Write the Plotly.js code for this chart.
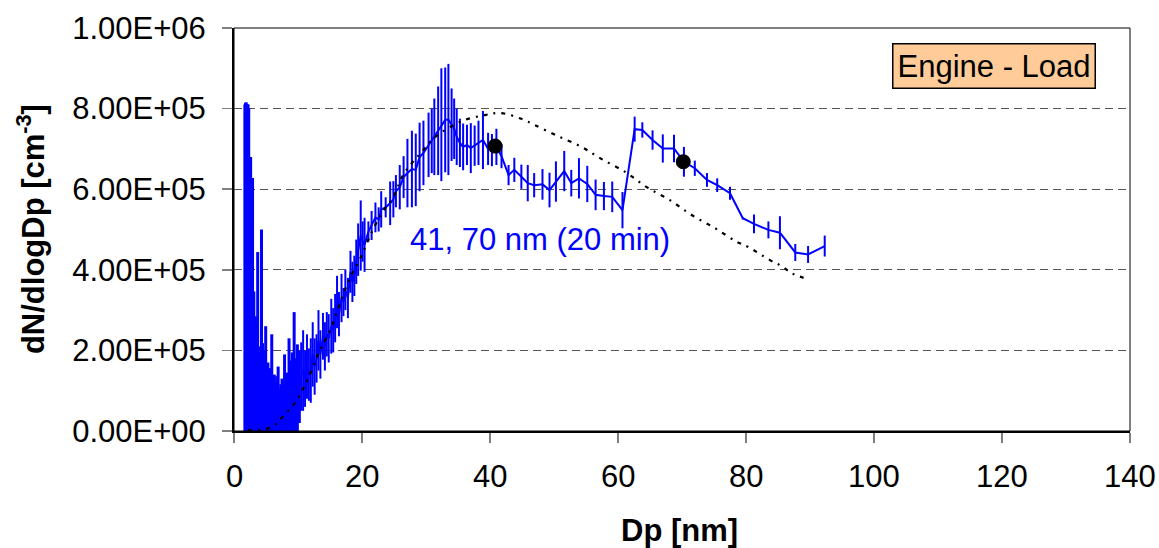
<!DOCTYPE html>
<html>
<head>
<meta charset="utf-8">
<script src="https://cdn.plot.ly/plotly-3.0.1.min.js"></script>
<style>html,body{margin:0;padding:0;background:#fff;}#chart{width:1159px;height:548px;}</style>
</head>
<body>
<div id="chart"></div>
<script>
// Measured size distribution (Dp in nm, dN/dlogDp in cm^-3) with error bars
// Small-size part (dense, noisy)
const dpSmall = [
  1.7,1.8,1.9,2.0,2.1,2.2,2.3,2.4,2.5,2.6,2.7,2.8,2.9,3.0,3.1,3.2,3.35,3.5,3.7,3.85,
  4.0,4.15,4.3,4.45,4.6,4.8,4.95,5.1,5.3,5.5,5.7,5.9,6.1,6.3,6.5,6.7,6.9,7.1,7.3,7.5,
  7.7,7.9,8.1,8.3,8.6,8.9,9.1,9.4,9.6,9.9,10.2
];
const valSmall = [
  3.95e5,3.97e5,3.98e5,3.95e5,3.95e5,3.95e5,3.9e5,3.3e5,3.3e5,3.3e5,3.04e5,3.04e5,3.04e5,1.63e5,1.63e5,1.32e5,1.32e5,1.3e5,2.12e5,0.87e5,
  0.85e5,0.95e5,2.4e5,0.99e5,0.9e5,0.8e5,1.2e5,0.7e5,0.75e5,0.6e5,0.68e5,1.1e5,0.5e5,0.6e5,0.5e5,0.58e5,0.7e5,0.42e5,0.48e5,0.55e5,
  0.5e5,0.85e5,0.55e5,0.7e5,1.1e5,0.85e5,0.95e5,1.45e5,0.9e5,1.0e5,1.1e5
];
const errSmall = [
  4.15e5,4.17e5,4.18e5,4.15e5,4.15e5,4.15e5,4.1e5,3.5e5,3.5e5,3.5e5,3.24e5,3.24e5,3.24e5,1.83e5,1.83e5,1.52e5,1.52e5,1.5e5,2.32e5,1.07e5,
  1.05e5,1.15e5,2.6e5,1.19e5,1.1e5,1.0e5,1.4e5,0.9e5,0.95e5,0.8e5,0.88e5,1.3e5,0.7e5,0.8e5,0.7e5,0.78e5,0.9e5,0.62e5,0.68e5,0.75e5,
  0.65e5,1.05e5,0.7e5,0.75e5,1.2e5,0.9e5,1.0e5,1.5e5,0.9e5,1.15e5,0.9e5
];
// Remaining part
const dpNm = [
  10.2,10.5,10.8,11.1,11.4,11.7,12.0,12.3,12.6,12.9,
  13.2,13.5,13.9,14.2,14.5,14.8,15.2,15.5,15.8,16.1,16.4,16.8,17.1,17.4,17.8,18.2,18.5,18.8,19.1,19.4,
  19.8,20.1,20.4,21.0,21.5,22.1,22.6,23.0,23.7,24.4,24.9,25.3,25.9,26.5,27.1,27.8,28.4,29.0,29.6,30.4,
  30.9,31.3,31.9,32.4,33.0,33.5,34.0,34.4,34.8,35.3,35.8,36.4,37.0,37.6,38.2,38.9,39.7,40.3,41.0,41.8,
  42.9,43.8,44.9,45.9,46.9,48.2,49.3,50.3,51.6,52.7,53.9,55.2,56.5,57.8,59.1,60.7,
  62.6,63.8,65.4,67.0,68.75,70.3,72.0,73.9,75.5,77.5,79.5,81.25,83.5,85.3,87.7,89.7,92.3
];
const dNdlogDp = [
  1.1e5,1.35e5,1.5e5,1.3e5,1.6e5,1.4e5,1.5e5,1.9e5,1.6e5,1.8e5,
  2.25e5,1.9e5,2.35e5,2.1e5,2.4e5,2.3e5,2.6e5,2.5e5,2.8e5,3.2e5,2.9e5,3.3e5,3.2e5,3.5e5,3.3e5,3.95e5,3.7e5,3.85e5,4.2e5,4.5e5,
  4.85e5,4.7e5,4.62e5,4.95e5,5.1e5,5.3e5,5.25e5,5.5e5,5.55e5,5.65e5,5.75e5,5.95e5,6.05e5,6.3e5,6.4e5,6.5e5,6.48e5,6.8e5,6.9e5,7.1e5,
  7.2e5,7.3e5,7.45e5,7.6e5,7.72e5,7.73e5,7.6e5,7.5e5,7.3e5,7.15e5,7.05e5,7.1e5,7.02e5,7.08e5,7.15e5,7.22e5,7.0e5,6.97e5,7.05e5,6.82e5,
  6.35e5,6.48e5,6.31e5,6.15e5,6.1e5,6.12e5,5.98e5,6.19e5,6.45e5,6.15e5,6.27e5,6.13e5,5.86e5,5.83e5,5.81e5,5.48e5,
  7.49e5,7.47e5,7.22e5,7.01e5,7.01e5,6.68e5,6.52e5,6.23e5,6.1e5,5.9e5,5.28e5,5.14e5,4.99e5,4.92e5,4.43e5,4.38e5,4.59e5
];
const dNError = [
  0.9e5,0.85e5,1.0e5,0.7e5,0.8e5,0.65e5,0.8e5,0.8e5,0.7e5,0.6e5,
  0.75e5,0.6e5,0.58e5,0.6e5,0.55e5,0.6e5,0.68e5,0.55e5,0.6e5,0.65e5,0.55e5,0.6e5,0.35e5,0.5e5,0.5e5,0.52e5,0.5e5,0.5e5,0.55e5,0.65e5,
  0.87e5,0.5e5,0.67e5,0.25e5,0.36e5,0.37e5,0.3e5,0.45e5,0.25e5,0.54e5,0.45e5,0.4e5,0.55e5,0.52e5,0.85e5,0.95e5,0.9e5,0.85e5,0.8e5,0.8e5,
  0.8e5,0.95e5,1.1e5,1.4e5,1.3e5,1.38e5,0.9e5,0.75e5,0.7e5,0.6e5,0.58e5,0.5e5,0.62e5,0.5e5,0.55e5,0.72e5,0.4e5,0.4e5,0.45e5,0.3e5,
  0.25e5,0.3e5,0.3e5,0.45e5,0.3e5,0.38e5,0.43e5,0.5e5,0.5e5,0.33e5,0.5e5,0.45e5,0.38e5,0.35e5,0.38e5,0.45e5,
  0.31e5,0.19e5,0.24e5,0.35e5,0.34e5,0.37e5,0.19e5,0.17e5,0.17e5,0.16e5,0.03e5,0.23e5,0.21e5,0.41e5,0.21e5,0.21e5,0.26e5
];
// Lognormal fit (dotted curve)
const fitDp = [2.2,4.3,6.1,7.4,9.5,10.6,11.6,13.1,15,17,18.6,19.7,21.3,23.1,24.9,26.4,27.8,29.3,31.1,35.3,39.2,41.6,45,47,50.6,54.3,57.2,61.1,64.5,68.1,71.5,75.2,78.5,80.3,83.75,85.6,87.1,89];
const fitVal = [2e3,3e3,1.2e4,3.2e4,6.9e4,9.9e4,1.31e5,1.89e5,2.5e5,3.37e5,3.95e5,4.27e5,4.86e5,5.41e5,5.81e5,6.35e5,6.65e5,6.92e5,7.25e5,7.67e5,7.84e5,7.89e5,7.74e5,7.59e5,7.32e5,7.05e5,6.77e5,6.43e5,6.05e5,5.73e5,5.36e5,5.03e5,4.7e5,4.57e5,4.24e5,4.09e5,3.92e5,3.8e5];
// Mode diameters (black dots)
const modeDp = [40.8, 70.2];
const modeVal = [7.07e5, 6.68e5];
// Axis ticks
const xTicks = [0,20,40,60,80,100,120,140];
const xTickText = ['0','20','40','60','80','100','120','140'];
const yTicks = [0,2e5,4e5,6e5,8e5,1e6];
const yTickText = ['0.00E+00','2.00E+05','4.00E+05','6.00E+05','8.00E+05','1.00E+06'];

const FONT = 'Liberation Sans, Arial, sans-serif';
const BLUE = '#0000FF';

const traces = [
  {
    x: dpSmall, y: valSmall, type: 'scatter', mode: 'lines',
    line: {color: BLUE, width: 2.5},
    error_y: {type: 'data', array: errSmall, visible: true, width: 0, thickness: 3, color: BLUE},
    cliponaxis: false, hoverinfo: 'x+y'
  },
  {
    x: dpNm, y: dNdlogDp, type: 'scatter', mode: 'lines',
    line: {color: BLUE, width: 2},
    error_y: {type: 'data', array: dNError, visible: true, width: 0, thickness: 2, color: BLUE},
    cliponaxis: false, hoverinfo: 'x+y'
  },
  {
    x: fitDp, y: fitVal, type: 'scatter', mode: 'lines',
    line: {color: '#000000', width: 2.2, dash: '4px,6px,2px,6px', shape: 'spline'}
  },
  {
    x: modeDp, y: modeVal, type: 'scatter', mode: 'markers',
    marker: {color: '#000000', size: 15}
  }
];

// x tick labels placed as annotations for exact vertical placement
const xLabelAnns = xTicks.map((v, i) => ({
  text: xTickText[i], xref: 'x', yref: 'paper', x: v, y: -0.114,
  xanchor: 'center', yanchor: 'middle', showarrow: false,
  font: {family: FONT, size: 31, color: '#000000'}
}));

const layout = {
  width: 1159, height: 548,
  margin: {l: 234, r: 29, t: 28, b: 117, pad: 0},
  paper_bgcolor: '#ffffff', plot_bgcolor: '#ffffff',
  showlegend: false,
  font: {family: FONT, color: '#000000', size: 31},
  xaxis: {
    range: [0, 140], tickvals: xTicks, showticklabels: false,
    ticks: 'outside', ticklen: 10, tickwidth: 1.5, tickcolor: '#808080',
    showline: true, linecolor: '#000000', linewidth: 2,
    showgrid: false, zeroline: false
  },
  yaxis: {
    range: [0, 1e6], tickvals: yTicks, ticktext: yTickText,
    ticks: 'outside', ticklen: 10, tickwidth: 1.5, tickcolor: '#808080',
    ticklabelstandoff: 10,
    showline: true, linecolor: '#000000', linewidth: 2,
    showgrid: true, gridcolor: '#555555', gridwidth: 1, griddash: '8px,5px',
    zeroline: false,
    tickfont: {family: FONT, size: 31, color: '#000000'}
  },
  shapes: [
    {type: 'rect', xref: 'paper', yref: 'paper', x0: 0, x1: 1, y0: 0, y1: 1,
     line: {color: '#000000', width: 1}, layer: 'above'}
  ],
  annotations: xLabelAnns.concat([
    {text: '<b>Dp [nm]</b>', xref: 'paper', yref: 'paper', x: 0.4967, y: -0.248,
     xanchor: 'center', yanchor: 'middle', showarrow: false,
     font: {family: FONT, size: 31, color: '#000000'}},
    {text: '<b>dN/dlogDp [cm<sup>-3</sup>]</b>', xref: 'paper', yref: 'paper', x: -0.227, y: 0.5,
     xanchor: 'center', yanchor: 'middle', textangle: -90, showarrow: false,
     font: {family: FONT, size: 31, color: '#000000'}},
    {text: 'Engine - Load', xref: 'paper', yref: 'paper', x: 0.8477, y: 0.9045,
     xanchor: 'center', yanchor: 'middle', showarrow: false,
     bgcolor: '#FFCC99', bordercolor: '#000000', borderwidth: 1.5, borderpad: 4,
     font: {family: FONT, size: 31, color: '#000000'}},
    {text: '41, 70 nm (20 min)', xref: 'x', yref: 'y', x: 27.2, y: 4.74e5,
     xanchor: 'left', yanchor: 'middle', showarrow: false,
     font: {family: FONT, size: 31, color: BLUE}}
  ])
};

Plotly.newPlot('chart', traces, layout, {displayModeBar: false, staticPlot: true});
</script>
</body>
</html>
